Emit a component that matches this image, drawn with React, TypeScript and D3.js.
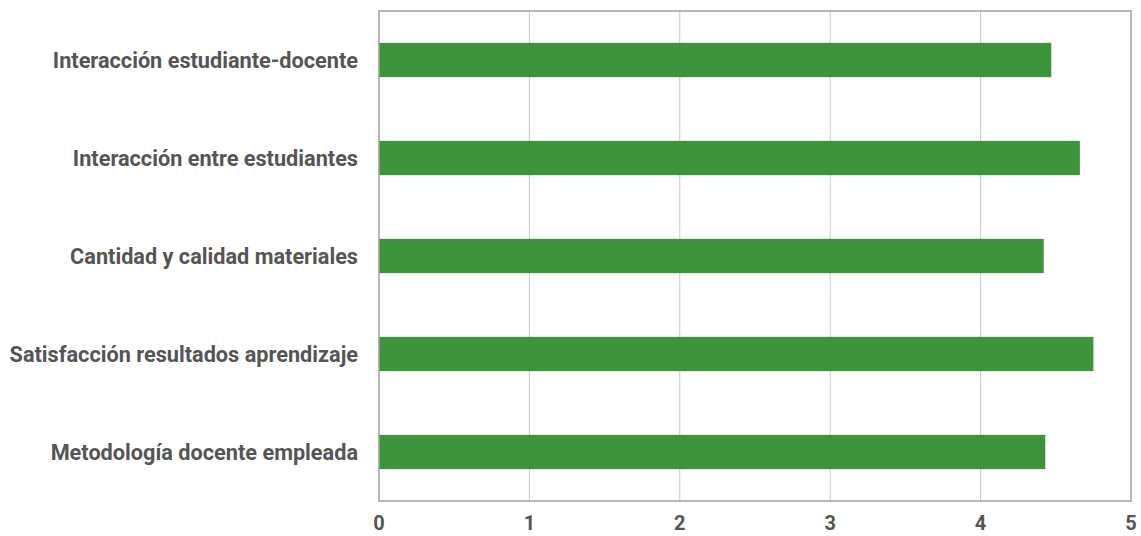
import React, { useEffect, useRef } from 'react';
import * as d3 from 'd3';

const categories = [
  'Interacción estudiante-docente',
  'Interacción entre estudiantes',
  'Cantidad y calidad materiales',
  'Satisfacción resultados aprendizaje',
  'Metodología docente empleada',
];
const values = [4.47, 4.66, 4.42, 4.75, 4.43];
const ticks = [0, 1, 2, 3, 4, 5];

const width = 1141;
const height = 536;
const margin = { top: 11, right: 10, bottom: 35, left: 379 };

const App: React.FC = () => {
  const ref = useRef<SVGSVGElement>(null);

  useEffect(() => {
    const svg = d3.select(ref.current);
    svg.selectAll('*').remove();

    const x = d3.scaleLinear().domain([0, 5]).range([margin.left, width - margin.right]);
    const y = d3
      .scaleBand<string>()
      .domain(categories)
      .range([margin.top, height - margin.bottom])
      .paddingInner(0.65)
      .paddingOuter(0.325);

    // gridlines
    svg
      .append('g')
      .selectAll('line')
      .data(ticks.slice(1, -1))
      .enter()
      .append('line')
      .attr('x1', d => x(d))
      .attr('x2', d => x(d))
      .attr('y1', margin.top)
      .attr('y2', height - margin.bottom)
      .attr('stroke', '#c8c8c8')
      .attr('stroke-width', 1);

    // bars
    svg
      .append('g')
      .selectAll('rect')
      .data(values)
      .enter()
      .append('rect')
      .attr('x', x(0))
      .attr('y', (d, i) => y(categories[i])!)
      .attr('width', d => x(d) - x(0))
      .attr('height', y.bandwidth())
      .attr('fill', '#3e943b');

    // frame
    svg
      .append('rect')
      .attr('x', x(0))
      .attr('y', margin.top)
      .attr('width', x(5) - x(0))
      .attr('height', height - margin.bottom - margin.top)
      .attr('fill', 'none')
      .attr('stroke', '#a0a0a0')
      .attr('stroke-width', 1.5);

    // category labels
    svg
      .append('g')
      .selectAll('text')
      .data(categories)
      .enter()
      .append('text')
      .attr('x', margin.left - 21)
      .attr('y', d => y(d)! + y.bandwidth() / 2)
      .attr('dy', '0.35em')
      .attr('text-anchor', 'end')
      .attr('font-family', 'Roboto, sans-serif')
      .attr('font-weight', 'bold')
      .attr('font-size', 21.7)
      .attr('fill', '#555555')
      .text(d => d);

    // x tick labels
    svg
      .append('g')
      .selectAll('text')
      .data(ticks)
      .enter()
      .append('text')
      .attr('x', d => x(d))
      .attr('y', height - 6)
      .attr('text-anchor', 'middle')
      .attr('font-family', 'Roboto, sans-serif')
      .attr('font-weight', 'bold')
      .attr('font-size', 20)
      .attr('fill', '#555555')
      .text(d => d);
  }, []);

  return <svg ref={ref} width={width} height={height} style={{ position: 'absolute', left: 0, top: 0 }} />;
};

export default App;
